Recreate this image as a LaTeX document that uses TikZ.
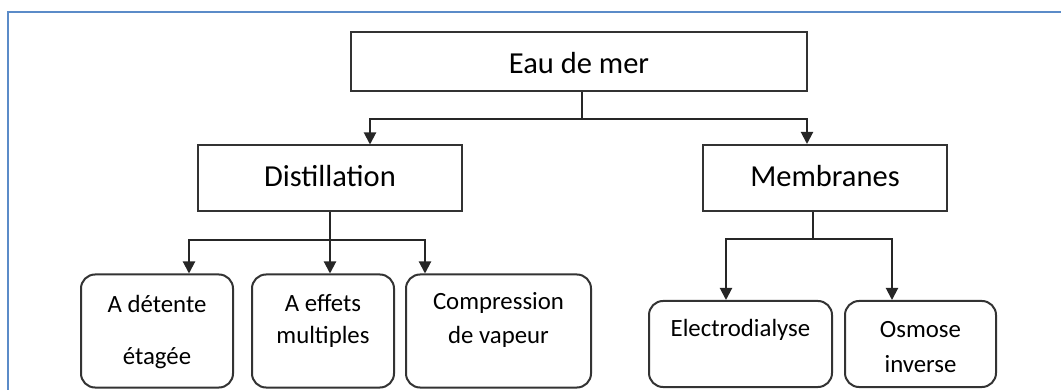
\documentclass[tikz,border=0pt]{standalone}
\usepackage{fontspec}
\setmainfont{Carlito}
\usetikzlibrary{arrows.meta}
\begin{document}
\begin{tikzpicture}[x=1pt,y=-1pt,
  sqbox/.style={draw=black!80,line width=2pt,inner sep=0pt},
  rbox/.style={draw=black!80,line width=2pt,inner sep=0pt,rounded corners=14pt},
  big/.style={font=\fontsize{30.5}{36}\selectfont,inner sep=0pt,anchor=center},
  small/.style={font=\fontsize{24.8}{29}\selectfont,inner sep=0pt,anchor=center},
  conn/.style={draw=black!85,line width=2pt},
  arr/.style={conn,-{Triangle[length=12pt,width=12pt]}},
  frame/.style={draw={rgb,255:red,91;green,139;blue,200},line width=2pt}
]
\useasboundingbox (0,0) rectangle (1061,390);
\draw[frame] (1070,12) -- (8,12) -- (8,400);

% boxes
\node[sqbox,minimum width=456pt,minimum height=59pt] (eau) at (579,61.5) {};
\node[sqbox,minimum width=264pt,minimum height=66pt] (dist) at (330,178.5) {};
\node[sqbox,minimum width=244pt,minimum height=66pt] (memb) at (825,178) {};
\node[rbox,minimum width=152pt,minimum height=113pt] (detente) at (157,331) {};
\node[rbox,minimum width=142pt,minimum height=113pt] (effets) at (323,331) {};
\node[rbox,minimum width=185pt,minimum height=113pt] (compr) at (498.5,331) {};
\node[rbox,minimum width=183pt,minimum height=86pt] (electro) at (740.5,344) {};
\node[rbox,minimum width=151pt,minimum height=86pt] (osmose) at (920.5,344) {};

% texts
\node[big] (teau) at (579,63) {Eau de mer};
\node[big] (tdist) at (330,176) {Distillation};
\node[big] (tmemb) at (825,176) {Membranes};
\node[small] (tdet1) at (157,304) {A détente};
\node[small] (tdet2) at (157,358) {étagée};
\node[small] (teff1) at (323,303) {A effets};
\node[small] (teff2) at (323,337) {multiples};
\node[small] (tcom1) at (498.5,303) {Compression};
\node[small] (tcom2) at (498.5,337) {de vapeur};
\node[small] (tele) at (740.5,330) {Electrodialyse};
\node[small] (tosm1) at (920.5,330) {Osmose};
\node[small] (tosm2) at (920.5,364) {inverse};

% connectors
\coordinate (e1) at (582,119);
\coordinate (e2) at (370,119);
\coordinate (e3) at (807,119);
\draw[conn] (eau.south -| e1) -- (e1);
\draw[arr] (e1) -- (e2) -- (dist.north -| e2);
\draw[arr] (e1) -- (e3) -- (memb.north -| e3);

\coordinate (d1) at (330,240);
\coordinate (d2) at (189,240);
\coordinate (d3) at (425,240);
\draw[arr] (dist.south -| d1) -- (effets.north -| d1);
\draw[arr] (d1) -- (d2) -- (detente.north -| d2);
\draw[arr] (d1) -- (d3) -- (compr.north -| d3);

\coordinate (m1) at (813,239);
\coordinate (m2) at (726,239);
\coordinate (m3) at (892,239);
\draw[conn] (memb.south -| m1) -- (m1);
\draw[arr] (m1) -- (m2) -- (electro.north -| m2);
\draw[arr] (m1) -- (m3) -- (osmose.north -| m3);
\end{tikzpicture}
\end{document}
